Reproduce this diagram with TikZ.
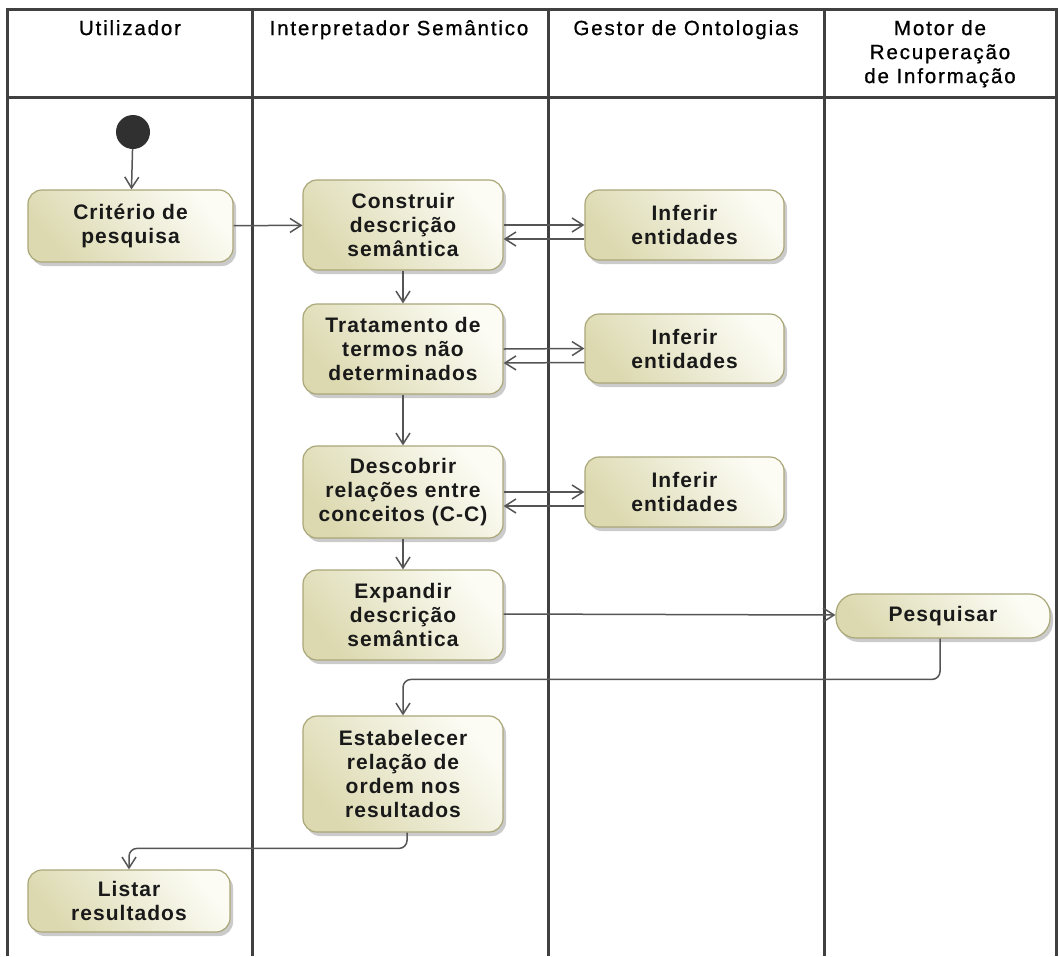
\documentclass[tikz,border=0pt]{standalone}
\usepackage{fontspec}
\setmainfont{Liberation Sans}
\newfontfamily\headfont[LetterSpace=9,FakeBold=0.8]{Liberation Sans}
\newfontfamily\actfont[LetterSpace=5]{Liberation Sans}
\usetikzlibrary{arrows.meta,shadows}
\definecolor{lanec}{RGB}{64,64,64}
\definecolor{flowc}{RGB}{85,85,85}
\definecolor{actdark}{RGB}{220,217,176}
\definecolor{actlight}{RGB}{252,252,245}
\definecolor{actedge}{RGB}{170,167,120}
\definecolor{startc}{RGB}{48,48,48}
\tikzset{
  lanes/.style={draw=lanec, line width=3pt},
  header/.style={anchor=north, inner sep=0pt, align=center, text=black,
    font=\headfont\fontsize{20.5}{24}\selectfont},
  act/.style={rounded corners=14pt, draw=actedge, line width=1.2pt,
    left color=actdark, right color=actlight, shading angle=130,
    drop shadow={shadow xshift=3pt, shadow yshift=-4pt, fill=black!45, opacity=0.45},
    align=center, inner sep=0pt, text=black!90,
    font=\actfont\bfseries\fontsize{21}{24}\selectfont},
  flow/.style={draw=flowc, line width=1.5pt,
    -{Straight Barb[length=11pt, width=14pt, line width=1.5pt]}},
}
\begin{document}
\begin{tikzpicture}[x=1pt, y=-1pt]
\useasboundingbox (0,0) rectangle (1059,956);
\fill[white] (0,0) rectangle (1059,956);

% swimlane frame and partitions
\draw[lanes] (7,956) -- (7,9) -- (1056,9) -- (1056,956);
\draw[lanes] (7,97) -- (1056,97);
\draw[lanes] (252,9) -- (252,956);
\draw[lanes] (548,9) -- (548,956);
\draw[lanes] (824,9) -- (824,956);

% lane titles
\node[header] (hUser) at (130,20) {Utilizador};
\node[header] (hInterp) at (399,20) {Interpretador Semântico};
\node[header] (hOnto) at (686,20) {Gestor de Ontologias};
\node[header] (hMotor) at (940,20) {Motor de\\Recuperação\\de Informação};

% initial state
\node[circle, fill=startc, minimum size=34pt, inner sep=0pt] (start) at (133,132) {};

% actions
\node[act, minimum width=205pt, minimum height=72pt] (crit) at (130.5,226) {Critério de\\pesquisa};
\node[act, minimum width=200pt, minimum height=90pt] (constr) at (403,225) {Construir\\descrição\\semântica};
\node[act, minimum width=199pt, minimum height=70pt] (inf1) at (684.5,225) {Inferir\\entidades};
\node[act, minimum width=200pt, minimum height=90pt] (trat) at (403,349) {Tratamento de\\termos não\\determinados};
\node[act, minimum width=199pt, minimum height=69pt] (inf2) at (684.5,348.5) {Inferir\\entidades};
\node[act, minimum width=200pt, minimum height=92pt] (desc) at (403,492) {Descobrir\\relações entre\\conceitos (C-C)};
\node[act, minimum width=199pt, minimum height=70pt] (inf3) at (684.5,492) {Inferir\\entidades};
\node[act, minimum width=200pt, minimum height=90pt] (exp) at (403,615) {Expandir\\descrição\\semântica};
\node[act, rounded corners=20pt, minimum width=214pt, minimum height=44pt] (pesq) at (943,616) {Pesquisar};
\node[act, minimum width=200pt, minimum height=116pt] (estab) at (403,774) {Estabelecer\\relação de\\ordem nos\\resultados};
\node[act, minimum width=202pt, minimum height=62pt] (listar) at (129,901) {Listar\\resultados};

% control flow
\draw[flow] (start) -- (crit);
\draw[flow] (crit) -- (constr);
\draw[flow] (constr.east) -- (inf1.west);
\draw[flow] ([yshift=-14pt]inf1.west) -- ([yshift=-14pt]constr.east);
\draw[flow] (constr) -- (trat);
\draw[flow] (trat.east) -- (inf2.west);
\draw[flow] ([yshift=-14pt]inf2.west) -- ([yshift=-14pt]trat.east);
\draw[flow] (trat) -- (desc);
\draw[flow] (desc.east) -- (inf3.west);
\draw[flow] ([yshift=-14pt]inf3.west) -- ([yshift=-14pt]desc.east);
\draw[flow] (desc) -- (exp);
\draw[flow] ([yshift=1pt]exp.east) -- ([yshift=1pt]pesq.west);
\draw[flow, rounded corners=8pt] ([xshift=-3pt]pesq.south) |- ([yshift=36pt]estab.north) -- (estab.north);
\draw[flow, rounded corners=8pt] ([xshift=4pt]estab.south) |- ([yshift=21pt]listar.north) -- (listar.north);
\end{tikzpicture}
\end{document}
